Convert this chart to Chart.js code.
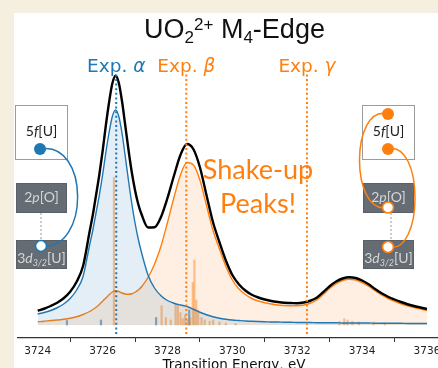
<!DOCTYPE html>
<html>
<head>
<meta charset="utf-8">
<script src="https://cdn.jsdelivr.net/npm/chart.js@4.4.0/dist/chart.umd.min.js"></script>
<style>
html, body { margin: 0; padding: 0; overflow: hidden; background: #f5efe0; }
canvas { display: block; }
</style>
</head>
<body>
<canvas id="spectrum" width="450" height="378"></canvas>
<script>
// energy grid, eV
var energy = [3724.0, 3724.2, 3724.4, 3724.6, 3724.8, 3725.0, 3725.2, 3725.4,
  3725.6, 3725.7, 3725.8, 3725.9, 3726.0, 3726.1, 3726.2, 3726.3, 3726.4, 3726.5, 3726.6, 3726.7, 3726.8, 3726.9, 3727.0, 3727.1, 3727.2,
  3727.4, 3727.6, 3727.8, 3728.0, 3728.2, 3728.4, 3728.6, 3728.8, 3729.0, 3729.2, 3729.4, 3729.6, 3729.8, 3730.0,
  3730.2, 3730.4, 3730.6, 3730.8, 3731.0, 3731.2, 3731.4, 3731.6, 3731.8, 3732.0,
  3732.2, 3732.4, 3732.6, 3732.8, 3733.0, 3733.2, 3733.4, 3733.6, 3733.8, 3734.0,
  3734.2, 3734.4, 3734.6, 3734.8, 3735.0, 3735.2, 3735.4, 3735.6, 3735.8, 3736.0];

// total spectrum (black)
var total = [0.057, 0.065, 0.076, 0.089, 0.107, 0.133, 0.173, 0.237,
  0.374, 0.442, 0.521, 0.602, 0.695, 0.798, 0.891, 0.966, 0.997, 0.968, 0.894, 0.797, 0.699, 0.611, 0.539, 0.483, 0.443,
  0.390, 0.391, 0.432, 0.508, 0.597, 0.680, 0.724, 0.703, 0.631, 0.521, 0.413, 0.332, 0.258, 0.200,
  0.163, 0.138, 0.121, 0.110, 0.102, 0.096, 0.092, 0.089, 0.088, 0.087,
  0.090, 0.097, 0.109, 0.131, 0.155, 0.174, 0.186, 0.191, 0.188, 0.178,
  0.163, 0.144, 0.127, 0.113, 0.102, 0.092, 0.083, 0.076, 0.070, 0.064];

// main line (blue)
var mainPeak = [0.044, 0.050, 0.058, 0.069, 0.084, 0.106, 0.140, 0.195,
  0.320, 0.380, 0.450, 0.520, 0.600, 0.690, 0.770, 0.834, 0.860, 0.834, 0.766, 0.673, 0.576, 0.486, 0.408, 0.343, 0.290,
  0.200, 0.148, 0.117, 0.098, 0.087, 0.080, 0.074, 0.063, 0.051, 0.041, 0.033, 0.027, 0.023, 0.020,
  0.018, 0.016, 0.015, 0.014, 0.013, 0.012, 0.012, 0.011, 0.011, 0.010,
  0.010, 0.010, 0.009, 0.009, 0.009, 0.009, 0.008, 0.008, 0.008, 0.008,
  0.008, 0.007, 0.007, 0.007, 0.007, 0.007, 0.006, 0.006, 0.006, 0.006];

// shake-up (orange)
var shakeUp = [0.013, 0.015, 0.018, 0.020, 0.023, 0.027, 0.033, 0.042,
  0.054, 0.062, 0.071, 0.082, 0.095, 0.108, 0.121, 0.132, 0.137, 0.134, 0.128, 0.124, 0.123, 0.125, 0.131, 0.140, 0.153,
  0.190, 0.243, 0.315, 0.410, 0.510, 0.600, 0.650, 0.640, 0.580, 0.480, 0.380, 0.305, 0.235, 0.180,
  0.145, 0.122, 0.106, 0.096, 0.089, 0.084, 0.080, 0.078, 0.077, 0.077,
  0.080, 0.087, 0.100, 0.122, 0.146, 0.165, 0.178, 0.183, 0.180, 0.170,
  0.155, 0.137, 0.120, 0.106, 0.095, 0.085, 0.077, 0.070, 0.064, 0.058];

// stick transitions
var shakeStickE = [3726.35, 3727.82, 3727.95, 3728.1, 3728.25, 3728.32, 3728.4, 3728.47, 3728.54, 3728.62, 3728.7,
  3728.78, 3728.83, 3728.89, 3728.95, 3729.05, 3729.15, 3729.3, 3729.41, 3729.6, 3729.8, 3730.1,
  3733.3, 3733.45, 3733.55, 3733.7, 3733.9, 3734.35, 3734.7];
var shakeStickH = [0.59, 0.077, 0.03, 0.02, 0.085, 0.08, 0.05, 0.025, 0.04, 0.02, 0.03,
  0.17, 0.26, 0.10, 0.06, 0.03, 0.02, 0.015, 0.02, 0.012, 0.008, 0.006,
  0.015, 0.025, 0.02, 0.015, 0.012, 0.012, 0.008];
var mainStickE = [3724.9, 3725.95, 3727.65, 3728.67];
var mainStickH = [0.018, 0.02, 0.03, 0.06];

// experimental peak positions
var expEnergy = [3726.42, 3728.58, 3732.3];
var expName = ['\u03b1', '\u03b2', '\u03b3'];
var expSpan = [-0.036, 1.008];

var xTicks = [3724, 3726, 3728, 3730, 3732, 3734, 3736];

var BLUE = '#1f77b4', ORANGE = '#ff7f0e';

function pts(xs, ys) {
  return xs.map(function(x, i) { return {x: x, y: ys[i]}; });
}

var datasets = expEnergy.map(function(e, i) {
  return {
    type: 'line',
    data: [{x: e, y: expSpan[0]}, {x: e, y: expSpan[1]}],
    borderColor: i == 0 ? BLUE : ORANGE,
    borderWidth: 2,
    borderDash: [2, 2.6],
    borderCapStyle: 'butt',
    pointRadius: 0,
    fill: false
  };
});
datasets.push({
  type: 'line', data: pts(energy, total),
  borderColor: '#000', borderWidth: 2.4, pointRadius: 0,
  cubicInterpolationMode: 'monotone', fill: false
});
datasets.push({
  type: 'line', data: pts(energy, mainPeak),
  borderColor: BLUE, borderWidth: 1.4, pointRadius: 0,
  cubicInterpolationMode: 'monotone',
  fill: 'origin', backgroundColor: 'rgba(31,119,180,0.12)'
});
datasets.push({
  type: 'line', data: pts(energy, shakeUp),
  borderColor: ORANGE, borderWidth: 1.4, pointRadius: 0,
  cubicInterpolationMode: 'monotone',
  fill: 'origin', backgroundColor: 'rgba(255,127,14,0.12)'
});
datasets.push({
  type: 'bar', data: pts(shakeStickE, shakeStickH),
  backgroundColor: 'rgba(255,127,14,0.45)', barThickness: 1.5, grouped: false
});
datasets.push({
  type: 'bar', data: pts(mainStickE, mainStickH),
  backgroundColor: 'rgba(31,119,180,0.6)', barThickness: 1.5, grouped: false
});

// draw text pieces side by side, centred on cx
function runs(ctx, parts, cx, y) {
  var w = 0;
  parts.forEach(function(p) { ctx.font = p[1]; p.w = ctx.measureText(p[0]).width; w += p.w; });
  var x = cx - w / 2;
  ctx.textAlign = 'left';
  parts.forEach(function(p) { ctx.font = p[1]; ctx.fillText(p[0], x, y + (p[2] || 0)); x += p.w; });
}

function box(ctx, x, y, w, h, dark) {
  ctx.fillStyle = dark ? '#656c74' : '#fff';
  ctx.strokeStyle = dark ? '#5a6068' : '#9c9c9c';
  ctx.lineWidth = 1;
  ctx.fillRect(x, y, w, h);
  ctx.strokeRect(x + 0.5, y + 0.5, w - 1, h - 1);
}

function dot(ctx, x, y, r, color, open) {
  ctx.beginPath();
  ctx.arc(x, y, r, 0, Math.PI * 2);
  ctx.fillStyle = open ? '#fff' : color;
  ctx.fill();
  if (open) { ctx.strokeStyle = color; ctx.lineWidth = 1.6; ctx.stroke(); }
}

function curve(ctx, pts4, color) {
  ctx.beginPath();
  ctx.moveTo(pts4[0], pts4[1]);
  ctx.bezierCurveTo(pts4[2], pts4[3], pts4[4], pts4[5], pts4[6], pts4[7]);
  ctx.strokeStyle = color; ctx.lineWidth = 1.5; ctx.stroke();
}

function levels(ctx, left, cx) {
  box(ctx, left, 105, 53, 55, false);
  box(ctx, left + 1, 183, 51, 30, true);
  box(ctx, left + 1, 240, 51, 29, true);
  ctx.save();
  ctx.strokeStyle = '#999'; ctx.lineWidth = 1; ctx.setLineDash([2, 2]);
  ctx.beginPath(); ctx.moveTo(cx + 2.5, 213); ctx.lineTo(cx + 2.5, 240); ctx.stroke();
  ctx.restore();
  ctx.fillStyle = '#222';
  runs(ctx, [['5', '14px Lato'], ['f', 'italic 14px Lato'], ['[U]', '14px Lato']], left + 26.5, 136);
  ctx.fillStyle = '#d6d6d6';
  runs(ctx, [['2', '14px Lato'], ['p', 'italic 14px Lato'], ['[O]', '14px Lato']], left + 26.5, 202);
  runs(ctx, [['3', '14px Lato'], ['d', 'italic 14px Lato'], ['3/2', 'italic 9px Lato', 3], ['[U]', '14px Lato']], left + 26.5, 263);
}

var decor = {
  id: 'decor',
  beforeDraw: function(chart) {
    var ctx = chart.ctx;
    ctx.save();
    ctx.fillStyle = '#f5efe0';
    ctx.fillRect(0, 0, chart.width, chart.height);
    ctx.fillStyle = '#fff';
    ctx.fillRect(14, 13, chart.width - 14, chart.height - 13);
    ctx.restore();
  },
  afterDraw: function(chart) {
    var ctx = chart.ctx, xs = chart.scales.x;
    ctx.save();
    ctx.textBaseline = 'alphabetic';

    // title
    ctx.fillStyle = '#111';
    runs(ctx, [['UO', '27px Liberation Sans'], ['2', '17px Liberation Sans', 5], ['2+', '17px Liberation Sans', -8.5],
      [' M', '27px Liberation Sans'], ['4', '17px Liberation Sans', 5], ['-Edge', '27px Liberation Sans']], 234.5, 38);

    // experiment labels
    expEnergy.forEach(function(e, i) {
      ctx.fillStyle = i == 0 ? BLUE : ORANGE;
      runs(ctx, [['Exp. ', '18.5px DejaVu Sans'], [expName[i], 'italic 18.5px DejaVu Sans']], xs.getPixelForValue(e), 72);
    });

    ctx.fillStyle = ORANGE;
    ctx.font = '27px Lato';
    ctx.textAlign = 'center';
    ctx.fillText('Shake-up', 258, 179);
    ctx.fillText('Peaks!', 258, 213);

    // level diagrams
    levels(ctx, 15, 38.5);
    curve(ctx, [40, 149, 90, 140, 90, 252, 41, 246], BLUE);
    dot(ctx, 40, 149, 6, BLUE, false);
    dot(ctx, 41, 246, 5.5, BLUE, true);

    levels(ctx, 362, 388.5);
    curve(ctx, [388, 114, 350, 104, 350, 216, 388, 207.5], ORANGE);
    curve(ctx, [388, 149, 424, 140, 424, 256, 388, 247], ORANGE);
    dot(ctx, 388, 114, 6, ORANGE, false);
    dot(ctx, 388, 149, 6, ORANGE, false);
    dot(ctx, 388, 207.5, 5.5, ORANGE, true);
    dot(ctx, 388, 247, 5.5, ORANGE, true);
    ctx.restore();
  }
};

new Chart(document.getElementById('spectrum'), {
  type: 'line',
  data: {datasets: datasets},
  plugins: [decor],
  options: {
    responsive: false,
    animation: false,
    layout: {padding: {left: 18, top: 40, right: 0, bottom: 0}},
    plugins: {legend: {display: false}, tooltip: {enabled: false}},
    scales: {
      x: {
        type: 'linear', min: 3723.392, max: 3736.71, offset: false,
        afterBuildTicks: function(s) { s.ticks = xTicks.map(function(v) { return {value: v}; }); },
        afterFit: function(s) { s.height = 40; },
        grid: {drawOnChartArea: false, drawTicks: true, tickLength: 4, tickColor: '#333', tickWidth: 1},
        border: {color: '#333', width: 1.2},
        ticks: {
          font: {family: 'DejaVu Sans', size: 10.5}, color: '#222', padding: 3,
          maxRotation: 0, autoSkip: false,
          callback: function(v) { return String(v); }
        },
        title: {display: true, text: 'Transition Energy, eV', color: '#111',
          font: {family: 'DejaVu Sans', size: 13.5}, padding: {top: 0, bottom: 4}}
      },
      y: {display: false, min: -0.052, max: 1.14}
    }
  }
});
</script>
</body>
</html>
